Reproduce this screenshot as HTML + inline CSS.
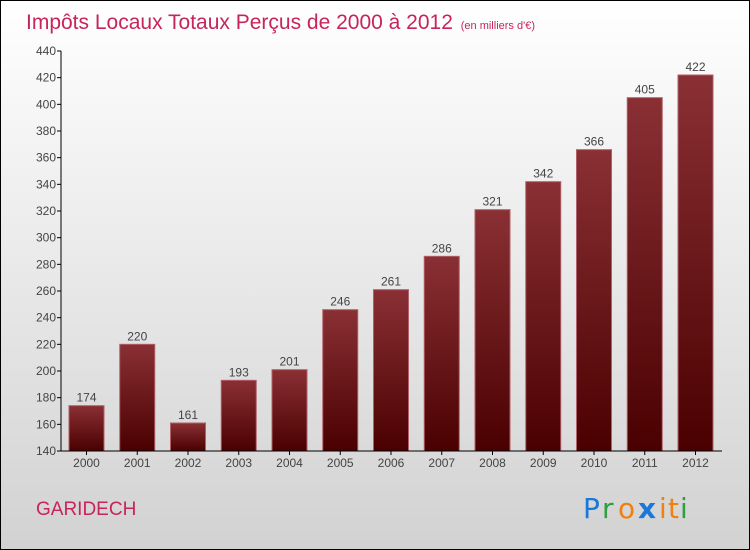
<!DOCTYPE html>
<html><head><meta charset="utf-8"><style>
body{margin:0}
#c{position:relative;width:748px;height:548px;border:1px solid #000;background:linear-gradient(#fff,#d2d2d2);font-family:"Liberation Sans",sans-serif;overflow:hidden}
</style></head><body>
<div id="c">
<svg width="748" height="548" id="svg">
<defs><linearGradient id="bg" x1="0" y1="0" x2="0" y2="1"><stop offset="0" stop-color="#8a3035"/><stop offset="1" stop-color="#4a0000"/></linearGradient></defs>
<text x="25" y="28" font-size="21" fill="#c8245a">Impôts Locaux Totaux Perçus de 2000 à 2012 <tspan font-size="11" dx="2">(en milliers d'€)</tspan></text>
<text x="35" y="514" font-size="19" fill="#c8245a">GARIDECH</text>
<g font-size="28" font-family="DejaVu Sans, sans-serif">
<text x="582" y="517" fill="#1a78d8">P</text><text x="601" y="517" fill="#2aa040">r</text><text x="617" y="517" fill="#f08010">o</text><text x="637" y="517" fill="#1a78d8" font-weight="bold">x</text><text x="658" y="517" fill="#f08010">i</text><text x="667" y="517" fill="#f08010">t</text><text x="679" y="517" fill="#2aa040">i</text>
</g>
<g id="plot"></g>
</svg>
</div>
<script>
const years=["2000","2001","2002","2003","2004","2005","2006","2007","2008","2009","2010","2011","2012"];
const values=[174,220,161,193,201,246,261,286,321,342,366,405,422];
const ticks=[140,160,180,200,220,240,260,280,300,320,340,360,380,400,420,440];
const NS="http://www.w3.org/2000/svg";
const g=document.getElementById('plot');
const y=v=>450-(v-140)*400/300;
const x=i=>85.5+i*50.75;
function el(t,a){const e=document.createElementNS(NS,t);for(const k in a)e.setAttribute(k,a[k]);g.appendChild(e);return e;}
ticks.forEach(t=>{
 const l=el('line',{x1:56,x2:60,y1:y(t),y2:y(t),stroke:'#000'});
 
 
 const tx=el('text',{x:55,y:y(t)+4,'text-anchor':'end','font-size':12,fill:'#444'});
 tx.textContent=t;
 
 
});
values.forEach((v,i)=>{
 const r=el('rect',{x:x(i)-17.5,y:y(v),width:35,height:450-y(v),fill:'url(#bg)',stroke:'#b06068','stroke-width':1});
 
 
 const t=el('text',{x:x(i),y:y(v)-4,'text-anchor':'middle','font-size':12,fill:'#444'});
 t.textContent=v;
 
 
 const tk=el('line',{x1:x(i),x2:x(i),y1:450,y2:454,stroke:'#000'});
 
 
 const xl=el('text',{x:x(i),y:466,'text-anchor':'middle','font-size':12,fill:'#444'});
 xl.textContent=years[i];
 
 
});
const ya=el('line',{x1:60,x2:60,y1:50,y2:450,stroke:'#000'});


const xa=el('line',{x1:60,x2:721,y1:450,y2:450,stroke:'#000'});


</script>
</body></html>
